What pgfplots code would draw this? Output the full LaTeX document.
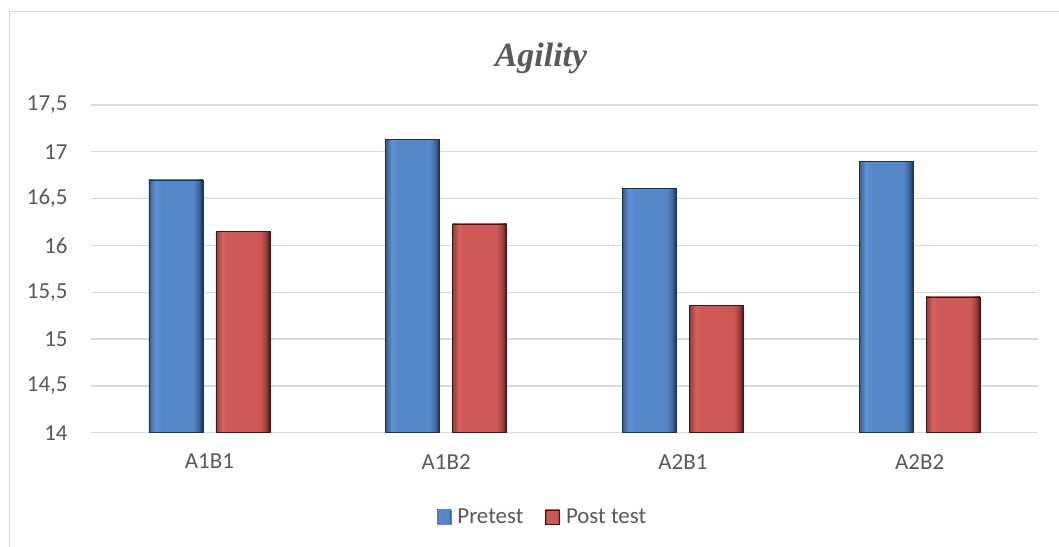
\documentclass[border=0pt]{standalone}
\usepackage{pgfplots}
\pgfplotsset{compat=1.18}
\usepackage{fontspec}
\setmainfont{Carlito}
\newfontfamily\titlefont{Liberation Serif}
\definecolor{txt}{HTML}{595959}
\definecolor{gridc}{HTML}{D9D9D9}
\definecolor{bA}{HTML}{365A88}
\definecolor{bB}{HTML}{4B79B3}
\definecolor{bL}{HTML}{5E93D5}
\definecolor{bC}{HTML}{5588C8}
\definecolor{bD}{HTML}{3E679C}
\definecolor{bE}{HTML}{1C3150}
\definecolor{rA}{HTML}{923B39}
\definecolor{rB}{HTML}{B84D4A}
\definecolor{rL}{HTML}{D9615E}
\definecolor{rC}{HTML}{CD5855}
\definecolor{rD}{HTML}{A0413F}
\definecolor{rE}{HTML}{3F1716}
\pgfdeclarehorizontalshading{bluebar}{100bp}{color(0bp)=(bA); color(25bp)=(bA); color(28bp)=(bB); color(31bp)=(bL); color(36bp)=(bC); color(66bp)=(bC); color(71bp)=(bD); color(75bp)=(bE); color(100bp)=(bE)}
\pgfdeclarehorizontalshading{redbar}{100bp}{color(0bp)=(rA); color(25bp)=(rA); color(28bp)=(rB); color(31bp)=(rL); color(36bp)=(rC); color(66bp)=(rC); color(71bp)=(rD); color(75bp)=(rE); color(100bp)=(rE)}
\pgfplotsset{
  pre/.style={ybar, bar shift=-33.5bp, shade, shading=bluebar, draw=bE, line width=0.6bp,
    legend image code/.code={\fill[bC] (0bp,-7bp) rectangle (14bp,7bp);}},
  post/.style={ybar, bar shift=33.5bp, shade, shading=redbar, draw=rE, line width=0.6bp,
    legend image code/.code={\shade[shading=redbar] (0bp,-7bp) rectangle (14bp,7bp);}},
}
\begin{document}
\begin{tikzpicture}
\useasboundingbox (0,0) rectangle (1059bp,547bp);
\draw[gridc, line width=1bp] (9bp,0bp) -- (9bp,535bp) -- (1059bp,535bp);
\begin{axis}[
  at={(91bp,114.3bp)}, anchor=south west,
  scale only axis, width=947bp, height=327.7bp,
  ymin=14, ymax=17.5, ytick={14,14.5,...,17.5},
  xmin=-0.5, xmax=3.5, xtick={0,1,2,3},
  xticklabels={A1B1,A1B2,A2B1,A2B2},
  ybar, bar width=54bp,
  axis line style={draw=none},
  major tick length=0pt,
  ymajorgrids, grid style={gridc, line width=1.25bp},
  tick label style={font=\fontsize{23}{28}\selectfont, text=txt},
  /pgf/number format/use comma,
  /pgf/number format/assume math mode=true,
  yticklabel style={xshift=-20bp},
  xticklabel style={yshift=-18bp},
  legend style={at={(0.4768,-0.257)}, anchor=center, draw=none, fill=none,
    legend columns=2, font=\fontsize{23}{28}\selectfont, text=txt,
    /tikz/every odd column/.append style={column sep=4bp},
    /tikz/every even column/.append style={column sep=20bp}},
]
% first bar of each series (legend entries)
\addplot[pre] coordinates {(0,16.70)};
\addplot[post] coordinates {(0,16.15)};
\legend{Pretest, Post test}
% Pretest
\addplot[pre, forget plot] coordinates {(1,17.13)};
\addplot[pre, forget plot] coordinates {(2,16.61)};
\addplot[pre, forget plot] coordinates {(3,16.90)};
% Post test
\addplot[post, forget plot] coordinates {(1,16.23)};
\addplot[post, forget plot] coordinates {(2,15.36)};
\addplot[post, forget plot] coordinates {(3,15.45)};
\end{axis}
\node[font=\titlefont\bfseries\itshape\fontsize{34}{40}\selectfont, text=txt, anchor=base] at (541bp,480.3bp) {Agility};
\end{tikzpicture}
\end{document}
